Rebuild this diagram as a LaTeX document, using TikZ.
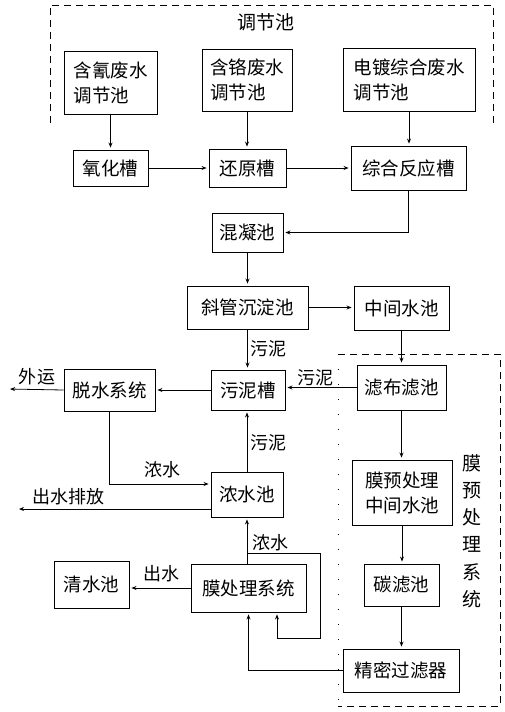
\documentclass[tikz,border=0pt]{standalone}
\usepackage{fontspec}
\newfontfamily\cjk{Noto Sans CJK SC}
\usetikzlibrary{arrows.meta}
\tikzset{
  box/.style={draw, line width=0.9pt, inner sep=0pt, font=\cjk\fontsize{18.5}{25}\selectfont},
  lbl/.style={inner sep=0pt, font=\cjk\fontsize{18}{20}\selectfont},
  arr/.style={line width=0.8pt, -{Stealth[length=5pt,width=4pt]}, shorten >=2pt},
  ln/.style={line width=0.8pt},
  dbox/.style={line width=0.8pt, dash pattern=on 7pt off 5pt}
}
\begin{document}
\begin{tikzpicture}[x=1pt,y=-1pt]
\useasboundingbox (0,0) rectangle (504,712);
% dashed groups
\draw[dbox] (50,123) -- (50,5) -- (493,5) -- (493,123);
\node[lbl, font=\cjk\fontsize{19}{20}\selectfont] (tjc) at (266,22) {调节池};
\draw[dbox] (338,354) -- (500,354) -- (500,706) -- (338,706);
\draw[line width=0.8pt, dash pattern=on 1pt off 14pt] (338,354) -- (338,706);
\node[lbl, font=\cjk\fontsize{19}{27.2}\selectfont, align=center] (myc) at (472,531) {膜\\预\\处\\理\\系\\统};

% boxes
\node[box, minimum width=93pt, minimum height=63pt, align=left] (hq) at (110.5,82.5) {含氰废水\\调节池};
\node[box, minimum width=90pt, minimum height=62pt, align=left] (hg) at (247,80) {含铬废水\\调节池};
\node[box, minimum width=132pt, minimum height=63pt, align=left] (dd) at (409,79.5) {电镀综合废水\\调节池};
\node[box, minimum width=75pt, minimum height=36pt] (yh) at (110.5,168) {氧化槽};
\node[box, minimum width=77pt, minimum height=38pt] (hy) at (247.5,168) {还原槽};
\node[box, minimum width=115pt, minimum height=44pt] (zh) at (408.5,168) {综合反应槽};
\node[box, minimum width=71pt, minimum height=39pt] (hn) at (247.5,232.5) {混凝池};
\node[box, minimum width=121pt, minimum height=43pt] (xg) at (247.5,307.5) {斜管沉淀池};
\node[box, minimum width=95pt, minimum height=44pt] (zj) at (401.5,308) {中间水池};
\node[box, minimum width=74pt, minimum height=40pt] (wn) at (248,390) {污泥槽};
\node[box, minimum width=91pt, minimum height=42pt] (ts) at (109.5,390) {脱水系统};
\node[box, minimum width=89pt, minimum height=45pt] (lb) at (401.5,387.5) {滤布滤池};
\node[box, minimum width=100pt, minimum height=65pt, align=left] (my) at (402,492.5) {膜预处理\\中间水池};
\node[box, minimum width=72pt, minimum height=45pt] (ns) at (247,494.5) {浓水池};
\node[box, minimum width=115pt, minimum height=48pt] (mc) at (248.5,588) {膜处理系统};
\node[box, minimum width=75pt, minimum height=47pt] (qs) at (91.5,584.5) {清水池};
\node[box, minimum width=75pt, minimum height=42pt] (tl) at (401.5,585) {碳滤池};
\node[box, minimum width=116pt, minimum height=43pt] (jm) at (401,670.5) {精密过滤器};

% labels
\node[lbl] (l1) at (268,349) {污泥};
\node[lbl] (l2) at (315,378) {污泥};
\node[lbl] (l3) at (268,443) {污泥};
\node[lbl] (l4) at (37,377) {外运};
\node[lbl] (l5) at (162,470) {浓水};
\node[lbl] (l6) at (68,497) {出水排放};
\node[lbl] (l7) at (270,543) {浓水};
\node[lbl] (l8) at (161,574) {出水};

% free ends / bends
\coordinate (wy) at (8,389);
\coordinate (cs) at (17,509);
\coordinate (nsy) at (0,484);
\coordinate (lp) at (247,553);
\coordinate (lr) at (320,553);
\coordinate (lrb) at (320,638);
\coordinate (lb2) at (277,638);

% connectors
\draw[arr] (hq.south) -- (hq.south |- yh.north);
\draw[arr] (hg.south) -- (hg.south |- hy.north);
\draw[arr] (dd.south) -- (dd.south |- zh.north);
\draw[arr] (yh.east) -- (hy.west);
\draw[arr] (hy.east) -- (zh.west);
\draw[arr] (zh.south) |- (hn.east);
\draw[arr] (hn.south) -- (hn.south |- xg.north);
\draw[arr] (xg.east) -- (xg.east -| zj.west);
\draw[arr] (xg.south) -- (xg.south |- wn.north);
\draw[arr] (zj.south) -- (zj.south |- lb.north);
\draw[arr] (lb.west) -- (lb.west -| wn.east);
\draw[arr] (wn.west) -- (wn.west -| ts.east);
\draw[arr] (ts.west) -- (wy);
\draw[arr] (ns.north) -- (ns.north |- wn.south);
\draw[arr] (ts.south) |- (ns.west |- nsy);
\draw[arr] (ns.west |- cs) -- (cs);
\draw[arr] (lb.south) -- (lb.south |- my.north);
\draw[arr] (my.south) -- (my.south |- tl.north);
\draw[arr] (tl.south) -- (tl.south |- jm.north);
\draw[arr] (jm.west) -| (mc.south);
\draw[arr] (mc.north -| lp) -- (lp |- ns.south);
\draw[arr] (lp) -- (lr) -- (lrb) -- (lb2) -- (lb2 |- mc.south);
\draw[arr] (mc.west) -- (mc.west -| qs.east);
\end{tikzpicture}
\end{document}
